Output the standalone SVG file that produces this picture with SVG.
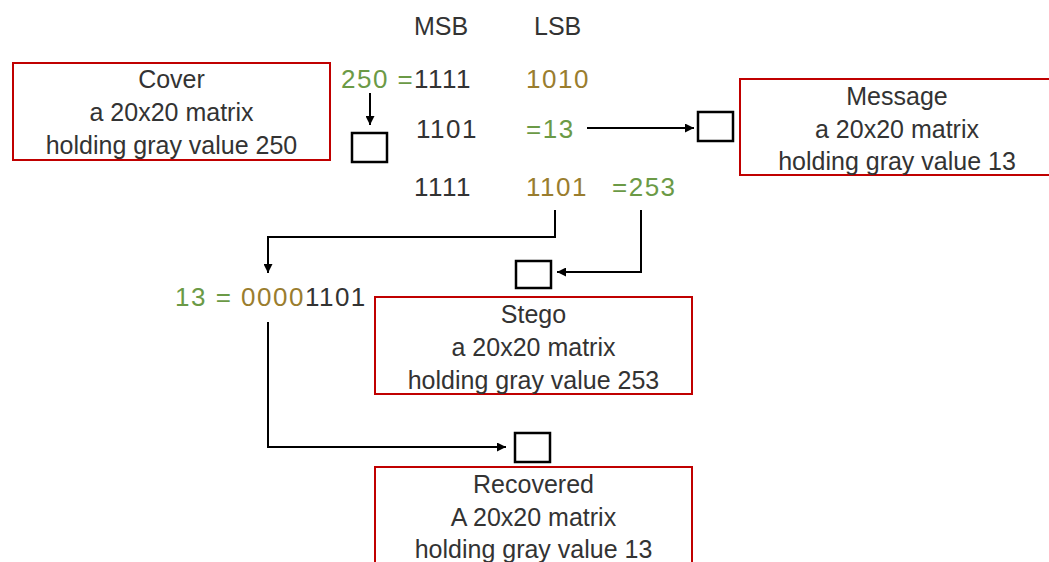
<svg xmlns="http://www.w3.org/2000/svg" width="1049" height="562" viewBox="0 0 1049 562">
  <defs>
    <marker id="arrow" viewBox="0 0 10 10" refX="10" refY="5" markerWidth="4.5" markerHeight="4.5" orient="auto" markerUnits="strokeWidth">
      <path d="M0,0 L10,5 L0,10 z" fill="#000"/>
    </marker>
    <style>
      text { font-family: "Liberation Sans", Arial, sans-serif; font-size: 25px; fill: #333333; }
      .num { font-size: 26px; letter-spacing: 1.5px; }
      .c { text-anchor: middle; }
      .green { fill: #6b9a46; }
      .olive { fill: #9a7d2e; }
      .box { fill: none; stroke: #c00000; stroke-width: 2; }
      .cell { fill: #ffffff; stroke: #000000; stroke-width: 2.5; }
      .link { fill: none; stroke: #000000; stroke-width: 2; marker-end: url(#arrow); }
    </style>
  </defs>
  <rect width="1049" height="562" fill="#ffffff"/>

  <!-- bit table -->
  <g id="bits">
    <text x="414" y="35">MSB</text>
    <text x="534" y="35">LSB</text>
    <text x="341" y="88" class="num green">250 =</text>
    <text x="414" y="88" class="num">1111</text>
    <text x="526" y="88" class="num olive">1010</text>
    <text x="416" y="138" class="num">1101</text>
    <text x="526" y="138" class="num green">=13</text>
    <text x="414" y="196" class="num">1111</text>
    <text x="526" y="196" class="num olive">1101</text>
    <text x="612" y="196" class="num green">=253</text>
    <text x="175" y="306" class="num"><tspan class="green">13 = </tspan><tspan class="olive">0000</tspan><tspan>1101</tspan></text>
  </g>

  <!-- cover -->
  <g id="cover">
    <rect class="box" x="13" y="63" width="317" height="97"/>
    <text class="c" x="171.5" y="88">Cover</text>
    <text class="c" x="171.5" y="121">a 20x20 matrix</text>
    <text class="c" x="171.5" y="154">holding gray value 250</text>
    <rect class="cell" x="352" y="133" width="35" height="29"/>
  </g>

  <!-- message -->
  <g id="message">
    <rect class="box" x="740" y="79" width="314" height="96"/>
    <text class="c" x="897" y="105">Message</text>
    <text class="c" x="897" y="138">a 20x20 matrix</text>
    <text class="c" x="897" y="170">holding gray value 13</text>
    <rect class="cell" x="698" y="112" width="35" height="29"/>
  </g>

  <!-- stego -->
  <g id="stego">
    <rect class="box" x="375" y="297" width="317" height="97"/>
    <text class="c" x="533.5" y="323">Stego</text>
    <text class="c" x="533.5" y="356">a 20x20 matrix</text>
    <text class="c" x="533.5" y="389">holding gray value 253</text>
    <rect class="cell" x="516" y="261" width="35" height="27"/>
  </g>

  <!-- recovered -->
  <g id="recovered">
    <rect class="box" x="375" y="467" width="317" height="110"/>
    <text class="c" x="533.5" y="493">Recovered</text>
    <text class="c" x="533.5" y="526">A 20x20 matrix</text>
    <text class="c" x="533.5" y="558">holding gray value 13</text>
    <rect class="cell" x="515" y="433" width="35" height="29"/>
  </g>

  <!-- connectors -->
  <g id="connectors">
    <path class="link" d="M370,93 V125"/>
    <path class="link" d="M587,128 H694"/>
    <path class="link" d="M555,210 V237 H268 V273"/>
    <path class="link" d="M641,210 V272 H557"/>
    <path class="link" d="M268,322 V447 H506"/>
  </g>
</svg>
